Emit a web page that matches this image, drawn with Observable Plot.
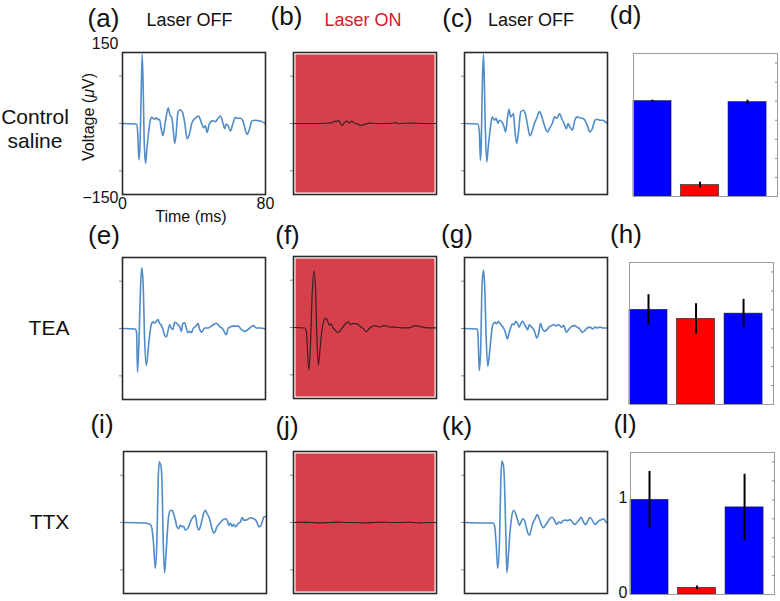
<!DOCTYPE html>
<html><head><meta charset="utf-8">
<script src="https://cdn.jsdelivr.net/npm/d3@7"></script>
<script src="https://cdn.jsdelivr.net/npm/@observablehq/plot@0.6"></script>
<style>
body{margin:0;background:#fff;}
#fig{position:relative;width:780px;height:601px;overflow:hidden;background:#fff;font-family:"Liberation Sans",Arial,Helvetica,sans-serif;color:#111;}
.lab{position:absolute;transform:translate(-50%,-50%);white-space:nowrap;line-height:1;}
.pl{position:absolute;}
.pl svg{overflow:visible;background:transparent;display:block;}
</style></head><body><div id="fig"></div>
<script>
// ---------- data ----------
const timeDomain = [0, 80];          // ms
const voltDomain = [-150, 150];      // µV
const voltTicks = [-100, 0, 100];
const timeTickLabels = [0, 80];
const voltTickLabelsTop = [150];
const voltTickLabelsBottom = [-150];

// traces: [time (ms), voltage (µV)]
const traceA = [[0,0],[7.1,-1],[8.0,-2],[8.6,-26],[9.2,-77],[9.9,-33],[10.5,73],[11.0,146],[11.6,73],[12.1,-33],[12.9,-84],[13.6,-55],[14.6,-19],[15.5,6],[16.4,13],[17.8,9],[18.9,12],[19.8,8],[20.7,9],[21.7,-12],[22.6,-26],[23.9,2],[25.6,33],[26.7,16],[27.3,15],[28.0,2],[29.2,-42],[29.9,-26],[31.0,23],[32.3,29],[33.6,23],[34.8,2],[36.1,-32],[37.4,-23],[38.9,2],[40.7,11],[42.6,16],[44.1,2],[45.4,-9],[46.4,-5],[47.3,-19],[48.6,-1],[50.5,6],[52.0,4],[53.5,11],[54.8,16],[56.1,2],[57.2,-11],[57.9,-1],[59.1,-5],[60.4,-16],[61.7,-1],[63.2,13],[64.5,11],[66.0,11],[67.3,6],[68.4,-9],[69.7,-23],[71.0,-12],[72.5,6],[74.4,7],[76.3,6],[78.1,4],[80,-1]];
const traceB = [[0,0],[15.3,0],[20.0,1],[21.8,2],[23.1,5],[24.3,4],[25.2,7],[26.1,1],[27.1,-4],[28.4,1],[29.9,5],[31.2,1],[32.5,5],[34.0,1],[35.8,-1],[37.7,-4],[39.6,-2],[42.4,1],[47.0,0],[54.5,0],[57.3,2],[58.2,0],[65.7,1],[73.1,0],[80,0]];
const traceC = [[0,0],[7.5,-1],[8.3,-18],[8.9,-78],[9.4,-39],[10.0,88],[10.6,146],[11.1,88],[11.7,-18],[12.5,-81],[13.2,-53],[14.2,-18],[15.5,14],[16.6,7],[17.7,11],[18.7,0],[19.6,7],[20.8,4],[22.1,-7],[23.0,-18],[24.0,11],[24.9,30],[25.8,14],[26.8,18],[27.4,21],[28.1,-11],[29.2,-42],[30.2,-18],[31.5,25],[32.8,28],[34.0,21],[35.3,-4],[36.6,-26],[37.7,-18],[39.1,0],[40.4,11],[41.9,25],[43.0,18],[44.2,2],[45.3,-11],[46.6,-18],[47.5,-11],[49.1,0],[50.4,14],[51.7,11],[53.2,21],[54.3,11],[55.7,0],[57.0,-11],[57.9,0],[58.9,-7],[60.4,-14],[61.7,7],[63.0,14],[64.5,12],[66.0,11],[67.4,7],[68.7,-4],[70.2,-18],[71.5,-11],[73.0,7],[74.3,9],[75.8,7],[77.4,7],[78.7,4],[80,0]];
const traceE = [[0,0],[7.1,-1],[7.9,-9],[8.4,-92],[9.3,-16],[10.1,89],[10.8,128],[11.6,89],[12.3,-16],[13.3,-78],[14.2,-51],[15.1,-16],[16.1,8],[17.0,14],[17.9,11],[18.9,15],[19.8,19],[20.6,12],[21.5,8],[22.4,1],[23.4,-13],[24.5,-18],[25.4,-6],[26.4,8],[27.3,1],[28.2,-2],[29.2,13],[30.1,12],[31.0,8],[32.0,4],[32.9,-6],[33.8,11],[34.8,12],[35.7,1],[36.6,-9],[37.6,-6],[38.5,-9],[39.4,-1],[41.3,6],[42.2,11],[43.2,-2],[44.1,-8],[46.0,1],[47.9,1],[49.7,5],[52.5,11],[54.4,4],[56.3,-2],[57.2,-9],[58.1,-13],[59.1,1],[61.9,5],[64.7,5],[66.5,-2],[68.4,-6],[71.2,1],[73.1,6],[75.0,1],[77.2,1],[80,-1]];
const traceF = [[0,0],[6.3,-1],[7.2,-9],[8.6,-90],[9.5,-37],[10.5,75],[11.4,119],[12.4,75],[13.1,-23],[13.9,-80],[14.9,-44],[15.8,-9],[17.1,15],[18.1,20],[19.0,15],[20.0,5],[21.0,8],[21.9,1],[23.4,-6],[24.8,-11],[26.3,-6],[27.6,1],[29.1,8],[30.7,12],[32.0,6],[33.3,8],[34.9,8],[36.4,6],[37.7,1],[39.0,-2],[40.6,-9],[41.9,-4],[43.4,1],[45.3,4],[48.2,1],[51.0,4],[53.9,1],[56.8,1],[60.6,-1],[64.4,-1],[68.2,4],[72.0,1],[75.8,-1],[80,-1]];
const traceG = [[0,0],[7.0,-1],[7.5,-10],[8.3,-89],[9.1,-38],[9.8,89],[10.6,123],[11.3,89],[12.1,-17],[13.0,-80],[14.0,-52],[14.9,-17],[15.8,8],[17.0,13],[17.9,10],[18.9,15],[19.8,11],[20.8,6],[21.9,1],[23.0,-10],[24.0,-22],[24.9,-10],[25.8,1],[26.8,10],[27.7,8],[28.7,15],[29.6,11],[30.6,3],[31.5,10],[32.5,15],[33.4,10],[34.3,4],[35.3,-3],[36.2,8],[37.2,4],[38.1,1],[39.2,-6],[40.4,-20],[41.5,-10],[42.5,11],[43.4,1],[44.7,-6],[46.0,-3],[47.2,3],[48.5,6],[49.8,8],[51.3,6],[52.8,8],[54.2,3],[55.5,6],[57.0,-8],[58.5,-1],[59.8,4],[61.7,6],[63.0,3],[64.5,-1],[66.0,-8],[67.4,-4],[68.7,1],[70.2,3],[71.7,-1],[73.0,3],[74.3,1],[75.8,3],[77.4,1],[80,1]];
const traceI = [[0,0],[12.1,-1],[15.0,-4],[15.9,-13],[16.8,-44],[17.8,-97],[18.7,-37],[19.4,89],[20.0,128],[20.6,123],[21.1,116],[21.7,61],[22.2,-37],[23.0,-106],[23.7,-73],[24.5,-23],[25.2,12],[26.2,25],[27.1,26],[28.0,19],[29.0,5],[29.9,-9],[30.8,-13],[31.8,-6],[32.7,-9],[33.6,-8],[34.6,-16],[36.4,-9],[37.4,1],[38.3,8],[39.3,13],[40.2,15],[41.1,-6],[42.1,-16],[43.0,-9],[43.9,5],[44.9,20],[45.8,26],[46.7,19],[47.7,12],[48.6,1],[49.5,-13],[50.5,-22],[51.4,-18],[52.3,-9],[53.3,-4],[55.1,4],[57.0,8],[57.9,6],[58.9,-6],[59.8,-1],[60.7,-8],[61.7,-4],[62.6,-9],[64.5,-1],[65.4,1],[66.4,11],[67.3,5],[69.2,6],[71.0,10],[72.9,8],[73.8,6],[74.8,-1],[75.7,-9],[76.6,-8],[77.6,1],[78.5,12],[80,12]];
const traceJ = [[0,0],[5,1],[10,0],[15,-1],[20,0],[25,1],[30,0],[35,0],[40,-1],[45,0],[50,1],[55,0],[60,0],[65,1],[70,-1],[75,0],[80,0]];
const traceK = [[0,0],[11.3,-1],[16.0,-1],[16.9,-9],[17.7,-44],[18.6,-97],[19.6,-37],[20.3,89],[20.9,130],[21.5,125],[22.0,114],[22.6,54],[23.2,-37],[23.7,-106],[24.5,-73],[25.4,-23],[26.4,12],[27.5,26],[28.6,19],[29.8,4],[30.7,-6],[31.6,1],[32.6,8],[33.5,5],[34.5,-9],[35.4,-22],[36.3,-27],[37.3,-15],[38.2,-2],[39.5,8],[40.7,17],[41.8,8],[42.9,-4],[44.1,-11],[45.2,-6],[46.5,1],[47.6,8],[49.0,11],[50.3,5],[51.4,-4],[52.7,1],[54.0,-1],[55.2,4],[56.5,5],[57.8,4],[58.9,6],[60.3,1],[61.6,-4],[62.7,-1],[64.0,5],[65.3,11],[66.5,1],[67.8,-4],[69.1,4],[70.2,11],[71.6,4],[72.9,-4],[74.0,-1],[75.3,4],[76.6,6],[77.8,8],[79.1,1],[80,-1]];

// normalised response bars
const conditions = ["Laser OFF", "Laser ON", "Laser OFF"];
const condColors = ["#0000ff", "#ff0000", "#0000ff"];
const controlMean = [1.0, 0.12, 0.99];
const controlErr  = [0.01, 0.03, 0.02];
const teaMean = [1.0, 0.905, 0.96];
const teaErr  = [0.16, 0.16, 0.15];
const ttxMean = [1.0, 0.07, 0.92];
const ttxErr  = [0.30, 0.02, 0.35];
const barDomainY = [0, 1.5];
const barDomainX = [0.6, 3.63];
const barMinorTicks = [0.2, 0.4, 0.6, 0.8, 1.0, 1.2, 1.4];
const barTickLabels = [0, 1];

// ---------- styles ----------
const BLUE = "#4f8cc9", LASER_RED = "#d6404a", DARK = "#3a1f25";
const FONT = "'Liberation Sans', Arial, Helvetica, sans-serif";
const fig = document.getElementById("fig");
const M = {l: 45, r: 15, t: 15, b: 35};

function place(svg, x, y) {
  const d = document.createElement("div");
  d.className = "pl";
  d.style.left = x + "px"; d.style.top = y + "px";
  d.style.width = svg.getAttribute("width") + "px";
  d.appendChild(svg);
  fig.appendChild(d);
}
function label(html, x, y, size, extra) {
  const d = document.createElement("div");
  d.className = "lab";
  d.innerHTML = html;
  d.style.left = x + "px"; d.style.top = y + "px";
  d.style.fontSize = size + "px";
  if (extra) Object.assign(d.style, extra);
  fig.appendChild(d);
}

function tracePanel(data, left, top, laser, withLabels) {
  const W = 143, H = 142;
  const marks = [];
  if (laser) marks.push(Plot.frame({fill: LASER_RED, inset: 2}));
  marks.push(Plot.axisY({ticks: voltTicks, tickSize: 3, tickFormat: () => "", stroke: "#8a8a8a", label: null}));
  marks.push(Plot.line(data, {x: d => d[0], y: d => d[1], stroke: laser ? DARK : BLUE,
    strokeWidth: laser ? 1.2 : 1.6, curve: "monotone-x", clip: true}));
  if (withLabels) {
    marks.push(Plot.axisY({ticks: voltTickLabelsTop, tickSize: 0, tickPadding: 4, dy: -8.5, fontSize: 16, label: null}));
    marks.push(Plot.axisY({ticks: voltTickLabelsBottom, tickSize: 0, tickPadding: 4, dy: 3, fontSize: 16, label: null}));
    marks.push(Plot.axisX({ticks: timeTickLabels, tickSize: 0, tickPadding: 3, fontSize: 16, label: null}));
  }
  marks.push(Plot.frame({stroke: "#2b2b2b", strokeWidth: 1.6}));
  const svg = Plot.plot({
    width: W + M.l + M.r, height: H + M.t + M.b,
    marginLeft: M.l, marginRight: M.r, marginTop: M.t, marginBottom: M.b,
    x: {domain: timeDomain, axis: null}, y: {domain: voltDomain, axis: null},
    style: {fontFamily: FONT, fontSize: "16px", background: "transparent", color: "#111", overflow: "visible"},
    marks
  });
  place(svg, left - M.l, top - M.t);
}

function barPanel(means, errs, left, top, H, withLabels) {
  const W = 144;
  const rows = conditions.map((c, k) => ({pos: k + 1, cond: c, mean: means[k], err: errs[k], color: condColors[k]}));
  const marks = [
    Plot.rect(rows, {x1: d => d.pos - 0.4, x2: d => d.pos + 0.4, y1: 0, y2: "mean", fill: "color", stroke: "#1c1c3a", strokeWidth: 0.6}),
    Plot.ruleX(rows, {x: "pos", y1: d => d.mean - d.err, y2: d => d.mean + d.err, stroke: "#000", strokeWidth: 2}),
    Plot.axisY({anchor: "right", ticks: barMinorTicks, tickSize: -3, tickFormat: () => "", stroke: "#8a8a8a", label: null})
  ];
  if (withLabels) marks.push(Plot.axisY({anchor: "left", ticks: barTickLabels, tickSize: 0, tickPadding: 3, dy: -1.5, fontSize: 16, tickFormat: d3.format("d"), label: null}));
  marks.push(Plot.frame({stroke: "#9c9c9c", strokeWidth: 1}));
  const svg = Plot.plot({
    width: W + M.l + M.r, height: H + M.t + M.b,
    marginLeft: M.l, marginRight: M.r, marginTop: M.t, marginBottom: M.b,
    x: {domain: barDomainX, axis: null}, y: {domain: barDomainY, axis: null},
    color: {type: "identity"},
    style: {fontFamily: FONT, fontSize: "16px", background: "transparent", color: "#111", overflow: "visible"},
    marks
  });
  place(svg, left - M.l, top - M.t);
}

// ---------- panels ----------
tracePanel(traceA, 122, 52, false, true);
tracePanel(traceB, 293, 52, true, false);
tracePanel(traceC, 464, 52, false, false);
barPanel(controlMean, controlErr, 633, 53, 143, false);

tracePanel(traceE, 122, 257, false, false);
tracePanel(traceF, 293, 256, true, false);
tracePanel(traceG, 464, 257, false, false);
barPanel(teaMean, teaErr, 629, 262, 142, false);

tracePanel(traceI, 123, 451, false, false);
tracePanel(traceJ, 293, 451, true, false);
tracePanel(traceK, 464, 451, false, false);
barPanel(ttxMean, ttxErr, 630, 452, 142, true);

// ---------- text ----------
const panelLetters = [
  ["(a)", 103.5, 18], ["(b)", 286.5, 16], ["(c)", 457.5, 17.5], ["(d)", 625.5, 15],
  ["(e)", 104, 235], ["(f)", 287.5, 235], ["(g)", 457, 234], ["(h)", 626, 234],
  ["(i)", 102, 424], ["(j)", 287, 426], ["(k)", 457, 426], ["(l)", 625, 424]
];
panelLetters.forEach(([t, x, y]) => label(t, x, y, 26));
label("Laser OFF", 189.5, 20, 18);
label("Laser ON", 363, 19.5, 18, {color: "#d0202a"});
label("Laser OFF", 531, 20, 18);
label("Control", 35, 115.5, 21);
label("saline", 35, 140, 21);
label("TEA", 49, 327, 21);
label("TTX", 49.5, 521, 21);
label("Time (ms)", 191, 217, 16);
label("Voltage (<i>μ</i>V)", 88.5, 117, 16, {transform: "translate(-50%,-50%) rotate(-90deg)"});
</script></body></html>
